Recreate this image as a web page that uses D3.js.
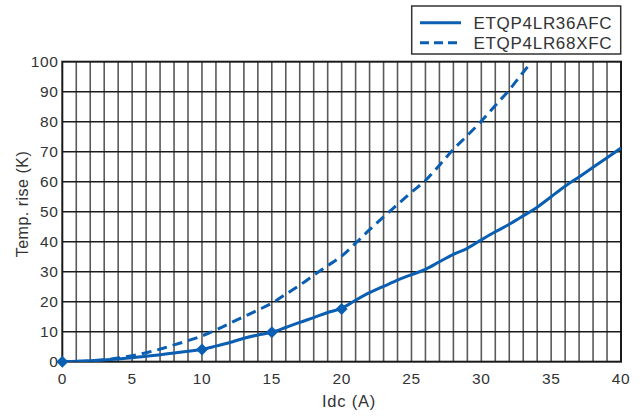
<!DOCTYPE html>
<html>
<head>
<meta charset="utf-8">
<script src="https://cdn.jsdelivr.net/npm/d3@7"></script>
<style>
  html, body { margin: 0; padding: 0; background: #fff; }
  svg { display: block; }
  text { font-family: "Liberation Sans", Arial, sans-serif; fill: #333; }
</style>
</head>
<body>
<script>
const width = 643;
const height = 419;

// ETQP4LR36AFC (solid)
const solidI = [0, 2, 4, 5, 6, 7, 8, 9, 10, 11, 12, 13, 14, 15, 16, 17, 18, 19, 20,
  21, 22, 23, 24, 25, 26, 27, 28, 29, 30, 31, 32, 33, 34, 35, 36, 37, 38, 39, 40];
const solidT = [0, 0.3, 0.9, 1.3, 1.8, 2.3, 2.9, 3.5, 4.1, 5.2, 6.4, 7.8, 8.9, 9.8, 11.4, 13.1, 14.7, 16.4, 17.8,
  20.5, 23.0, 25.1, 27.2, 29.0, 30.8, 33.3, 35.8, 37.8, 40.6, 43.3, 45.8, 48.6, 51.5, 55.0, 58.5, 61.6, 64.8, 68.0, 71.2];
const markerI = [0, 10, 15, 20];
const markerT = [0, 4.1, 9.8, 17.6];

// ETQP4LR68XFC (dashed)
const dashI = [0, 2, 4, 5, 6, 7, 8, 9, 10, 11, 12, 13, 14, 15, 16, 17, 18, 19, 20,
  21, 22, 23, 24, 25, 26, 27, 28, 29, 30, 31, 32, 33, 33.6];
const dashT = [0, 0.3, 1.2, 2.0, 3.0, 4.2, 5.6, 7.0, 8.6, 10.6, 12.8, 15.0, 17.2, 19.5, 22.5, 25.5, 28.8, 32.0, 35.2,
  39.5, 44.0, 48.3, 52.4, 56.5, 60.4, 65.5, 70.8, 75.4, 80.2, 85.4, 90.6, 96.5, 100];

const xTicks = [0, 5, 10, 15, 20, 25, 30, 35, 40];
const yTicks = [0, 10, 20, 30, 40, 50, 60, 70, 80, 90, 100];
const seriesNames = ["ETQP4LR36AFC", "ETQP4LR68XFC"];

const blue = "#0b5fb2";

const svg = d3.select("body").append("svg")
  .attr("width", width)
  .attr("height", height);

const x = d3.scaleLinear().domain([0, 40]).range([62.3, 621]);
const y = d3.scaleLinear().domain([0, 100]).range([361.7, 61.7]);

// grid
const grid = svg.append("g");
grid.selectAll(".vgrid")
  .data(d3.range(1, 40))
  .enter().append("line")
  .attr("x1", d => x(d)).attr("x2", d => x(d))
  .attr("y1", y(0)).attr("y2", y(100))
  .attr("stroke", "#5a5a5a")
  .attr("stroke-width", 1.6);
grid.selectAll(".hgrid")
  .data(yTicks.slice(1, -1))
  .enter().append("line")
  .attr("x1", x(0)).attr("x2", x(40))
  .attr("y1", d => y(d)).attr("y2", d => y(d))
  .attr("stroke", "#1a1a1a")
  .attr("stroke-width", 1.6);

svg.append("rect")
  .attr("x", x(0)).attr("y", y(100))
  .attr("width", x(40) - x(0)).attr("height", y(0) - y(100))
  .attr("fill", "none")
  .attr("stroke", "#1a1a1a")
  .attr("stroke-width", 2);

// tick labels
svg.selectAll(".xt")
  .data(xTicks)
  .enter().append("text")
  .attr("x", d => x(d))
  .attr("y", 384)
  .attr("text-anchor", "middle")
  .style("font-size", "15.5px")
  .style("letter-spacing", "0.6px")
  .text(d => d);
svg.selectAll(".yt")
  .data(yTicks)
  .enter().append("text")
  .attr("x", 58.5)
  .attr("y", d => y(d) + 5.5)
  .attr("text-anchor", "end")
  .style("font-size", "15.5px")
  .style("letter-spacing", "0.6px")
  .text(d => d);
// cut-off label at the left edge
svg.append("text")
  .attr("x", -5).attr("y", 384)
  .attr("text-anchor", "middle")
  .style("font-size", "15.5px")
  .text("0");

// axis titles
svg.append("text")
  .attr("x", 349).attr("y", 407)
  .attr("text-anchor", "middle")
  .style("font-size", "16.5px")
  .style("letter-spacing", "0.8px")
  .text("Idc (A)");
svg.append("text")
  .attr("transform", "translate(28,204) rotate(-90)")
  .attr("text-anchor", "middle")
  .style("font-size", "16px")
  .style("letter-spacing", "0.5px")
  .text("Temp. rise (K)");

// curves
svg.append("clipPath").attr("id", "plot")
  .append("rect")
  .attr("x", x(0)).attr("y", y(100))
  .attr("width", x(40) - x(0)).attr("height", y(0) - y(100));

const line = d3.line()
  .x(d => x(d[0]))
  .y(d => y(d[1]))
  .curve(d3.curveMonotoneX);

const plot = svg.append("g").attr("clip-path", "url(#plot)");
plot.append("path")
  .datum(d3.zip(dashI, dashT))
  .attr("d", line)
  .attr("fill", "none")
  .attr("stroke", blue)
  .attr("stroke-width", 3)
  .attr("stroke-dasharray", "10,6");
plot.append("path")
  .datum(d3.zip(solidI, solidT))
  .attr("d", line)
  .attr("fill", "none")
  .attr("stroke", blue)
  .attr("stroke-width", 3);

svg.selectAll(".marker")
  .data(d3.zip(markerI, markerT))
  .enter().append("path")
  .attr("d", d3.symbol(d3.symbolSquare, 72))
  .attr("transform", d => `translate(${x(d[0])},${y(d[1])}) rotate(45)`)
  .attr("fill", blue);

// legend
const legend = svg.append("g");
legend.append("rect")
  .attr("x", 411.7).attr("y", 6)
  .attr("width", 209).attr("height", 48)
  .attr("fill", "#fff")
  .attr("stroke", "#333")
  .attr("stroke-width", 1.5);
const legendRows = legend.selectAll(".row")
  .data(seriesNames)
  .enter().append("g")
  .attr("transform", (d, i) => `translate(0,${22.7 + i * 20})`);
legendRows.append("line")
  .attr("x1", 420).attr("x2", 461)
  .attr("stroke", blue)
  .attr("stroke-width", 3)
  .attr("stroke-dasharray", (d, i) => i ? "9,5" : null);
legendRows.append("text")
  .attr("x", 473.5).attr("y", 6.3)
  .style("font-size", "17px")
  .style("letter-spacing", "0.7px")
  .text(d => d);
</script>
</body>
</html>
